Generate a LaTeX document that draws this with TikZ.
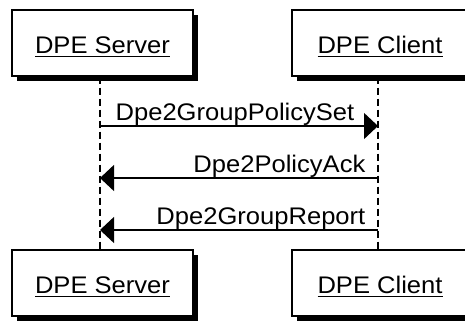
\documentclass[tikz,border=0pt]{standalone}
\usepackage{fontspec}
\setmainfont[FakeStretch=1.065]{Liberation Sans}
\usetikzlibrary{arrows.meta,shadows}
\newcommand\ulbox[1]{\setbox0\hbox{#1}\rlap{\rule[-4.2pt]{\wd0}{1.4pt}}\box0}
\tikzset{
  actor/.style={draw=black, line width=1.3pt, fill=white, minimum height=66pt,
    inner sep=0pt, text height=23pt, text depth=3pt,
    font=\fontsize{24}{28}\selectfont,
    drop shadow={shadow xshift=5pt, shadow yshift=-5pt, fill=black, opacity=1}},
  lifeline/.style={line width=1.3pt, dash pattern=on 7pt off 4pt},
  msg/.style={line width=1.3pt, -{Triangle[length=14pt,width=26pt]}},
  msglabel/.style={font=\fontsize{24}{28}\selectfont, inner sep=0pt}
}
\begin{document}
\begin{tikzpicture}[x=1pt,y=-1pt]
\clip (0,0) rectangle (465,322);
\fill[white] (0,0) rectangle (465,322);
% actor boxes
\node[actor, minimum width=181pt] (srvtop) at (102.5,43) {\ulbox{DPE Server}};
\node[actor, minimum width=176pt] (clitop) at (380,43) {\ulbox{DPE Client}};
\node[actor, minimum width=181pt] (srvbot) at (102.5,283) {\ulbox{DPE Server}};
\node[actor, minimum width=176pt] (clibot) at (380,283) {\ulbox{DPE Client}};
% lifeline points
\coordinate (sA) at (srvtop.south -| 100,0);
\coordinate (sB) at (srvbot.north -| 100,0);
\coordinate (cA) at (clitop.south -| 378,0);
\coordinate (cB) at (clibot.north -| 378,0);
\draw[lifeline] (sA) -- (sB);
\draw[lifeline] (cA) -- (cB);
% messages
\coordinate (s1) at (100,126);
\coordinate (c1) at (378,126);
\coordinate (s2) at (100,178);
\coordinate (c2) at (378,178);
\coordinate (s3) at (100,230);
\coordinate (c3) at (378,230);
\draw[msg] (s1) -- (c1) node[msglabel, pos=0, anchor=base west, shift={(15pt,6pt)}] {Dpe2GroupPolicySet};
\draw[msg] (c2) -- (s2) node[msglabel, pos=0, anchor=base east, shift={(-12pt,5.5pt)}] {Dpe2PolicyAck};
\draw[msg] (c3) -- (s3) node[msglabel, pos=0, anchor=base east, shift={(-12pt,5.5pt)}] {Dpe2GroupReport};
\end{tikzpicture}
\end{document}
